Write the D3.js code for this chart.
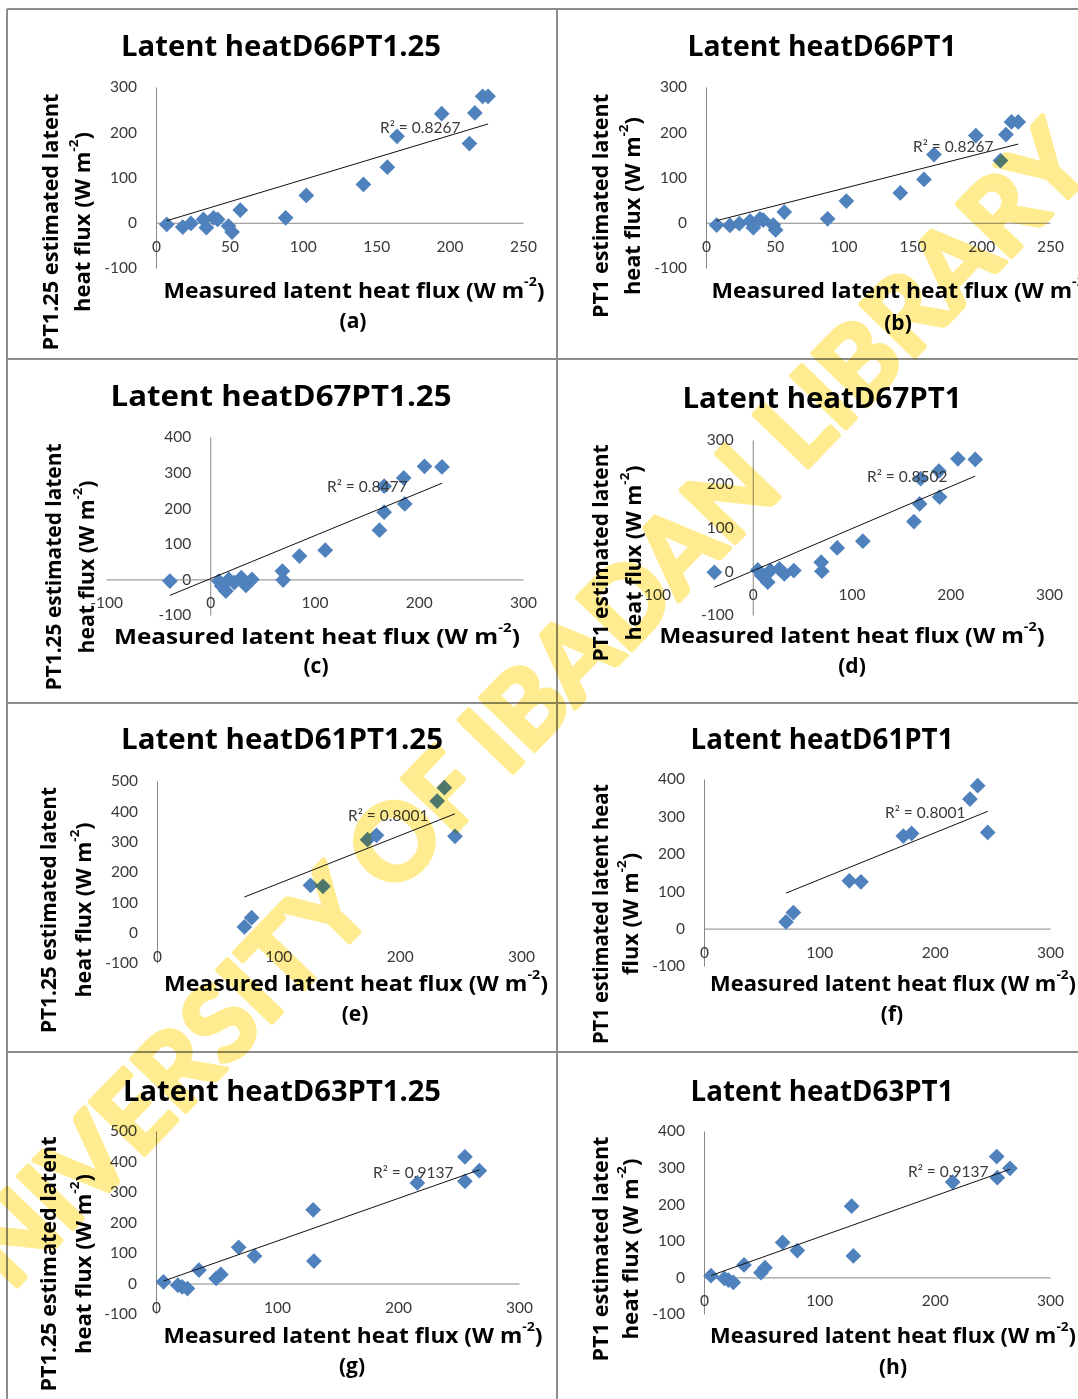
<!DOCTYPE html>
<html>
<head>
<meta charset="utf-8">
<script src="https://cdn.jsdelivr.net/npm/d3@7/dist/d3.min.js"></script>
<style>
  body { margin: 0; background: #fff; }
  svg { display: block; }
  text { font-family: Lato, "Open Sans", sans-serif; }
  .bold { font-family: "Open Sans", "Noto Sans", sans-serif; font-weight: 700; fill: #000; }
</style>
</head>
<body>
<svg width="1078" height="1399"></svg>
<script>
'use strict';

// ---- data ----
let panelTags = ['(a)', '(b)', '(c)', '(d)', '(e)', '(f)', '(g)', '(h)'];
let titles = ['Latent heatD66PT1.25', 'Latent heatD66PT1', 'Latent heatD67PT1.25', 'Latent heatD67PT1',
  'Latent heatD61PT1.25', 'Latent heatD61PT1', 'Latent heatD63PT1.25', 'Latent heatD63PT1'];
let yTitleLine1 = ['PT1.25 estimated latent', 'PT1 estimated latent', 'PT1.25 estimated latent', 'PT1 estimated latent',
  'PT1.25 estimated latent', 'PT1 estimated latent heat', 'PT1.25 estimated latent', 'PT1 estimated latent'];
let yTitleLine2 = ['heat flux  (W m-2)', 'heat flux (W m-2)', 'heat flux (W m-2)', 'heat flux (W m-2)',
  'heat flux (W m-2)', 'flux (W m-2)', 'heat flux  (W m-2)', 'heat flux (W m-2)'];
let xTitle = 'Measured latent heat flux (W m-2)';

let xDomains = [[0, 250], [0, 250], [-100, 300], [-100, 300], [0, 300], [0, 300], [0, 300], [0, 300]];
let yDomains = [[-100, 300], [-100, 300], [-100, 400], [-100, 300], [-100, 500], [-100, 400], [-100, 500], [-100, 400]];
let xTickValues = [
  [0, 50, 100, 150, 200, 250], [0, 50, 100, 150, 200, 250],
  [-100, 0, 100, 200, 300], [-100, 0, 100, 200, 300],
  [0, 100, 200, 300], [0, 100, 200, 300], [0, 100, 200, 300], [0, 100, 200, 300]
];
let yTickValues = [
  [-100, 0, 100, 200, 300], [-100, 0, 100, 200, 300],
  [-100, 0, 100, 200, 300, 400], [-100, 0, 100, 200, 300],
  [-100, 0, 100, 200, 300, 400, 500], [-100, 0, 100, 200, 300, 400],
  [-100, 0, 100, 200, 300, 400, 500], [-100, 0, 100, 200, 300, 400]
];

let d66pt125Measured = [7.3, 18.2, 23.8, 32.3, 34.3, 39.2, 42, 49.4, 51.8, 57.4, 88.3, 102.4, 141.3, 157.6, 164.2, 194.6, 213.5, 217.2, 222.5, 226.2];
let d66pt125Estimated = [-3.7, -9.6, -1.5, 7.4, -11, 11, 7.4, -7.4, -20.6, 28, 11, 60.3, 84.6, 122.8, 191, 241, 175, 242.6, 279.4, 279.4];
let d66pt1Measured = [7.7, 17.4, 24.2, 32, 34.4, 39.2, 41.6, 48.9, 50.6, 56.9, 88.4, 102, 141.2, 158.4, 165.7, 196.1, 214, 218, 222, 226.9];
let d66pt1Estimated = [-5, -6, -2, 3.7, -11, 8.8, 6, -5, -16, 23.5, 8.8, 47.8, 66, 95.6, 150.7, 192.6, 137.5, 194.8, 222.8, 222.8];
let d67pt125Measured = [-38.7, 8.2, 11, 15, 17.8, 23, 29.8, 34.2, 40, 69.2, 69.9, 85.6, 110.3, 162.3, 166.8, 166.8, 185.6, 186.6, 205.5, 222.3];
let d67pt125Estimated = [-4.7, -4.7, -18.7, -32.7, 0, -9, 4.7, -16.8, 0, 23.4, -1.9, 65.4, 82.2, 138.3, 188.8, 261.7, 285, 212, 317.8, 316];
let d67pt1Measured = [-38.9, 5.1, 9.1, 15.2, 17.9, 27, 32, 41.6, 69.3, 70, 85.5, 111.5, 163.2, 169, 170, 188.5, 189.2, 207.8, 225.3];
let d67pt1Estimated = [-2.3, 3, -10, -25, 1.5, 5.3, -6, 1.5, 20.6, 0, 53.4, 68.7, 113.7, 154, 211.5, 229, 169.5, 257, 255.7];
let d61pt125Measured = [72, 78, 126.5, 136.8, 173.5, 180.9, 230.9, 236.8, 245.6];
let d61pt125Estimated = [18.7, 49.5, 156, 152.7, 306.6, 321, 434, 478, 317.6];
let d61pt1Measured = [71.1, 77.5, 126, 136.1, 172.8, 180, 230.6, 237.3, 246];
let d61pt1Estimated = [17.9, 42.9, 127.7, 125, 247.3, 254.5, 346.4, 382, 257];
let d63pt125Measured = [6.2, 18, 21.6, 26, 35.5, 49.7, 53.6, 68.3, 81.4, 129.9, 130.5, 216, 255.3, 255.3, 267.2];
let d63pt125Estimated = [5.5, -5.5, -11, -16.5, 44, 16.5, 29.7, 118.7, 90, 241.8, 73.6, 329.7, 415.4, 335, 370];
let d63pt1Measured = [6.1, 17.6, 21.1, 25.4, 34.7, 49.4, 52.9, 68.2, 80.9, 128, 129.5, 215.6, 253.8, 254.3, 265.3];
let d63pt1Estimated = [4.6, -2.8, -7.3, -13.8, 34, 12.8, 26.6, 95.4, 73.4, 194.5, 58.7, 260.6, 330, 272.5, 298];

let measured = [d66pt125Measured, d66pt1Measured, d67pt125Measured, d67pt1Measured,
  d61pt125Measured, d61pt1Measured, d63pt125Measured, d63pt1Measured];
let estimated = [d66pt125Estimated, d66pt1Estimated, d67pt125Estimated, d67pt1Estimated,
  d61pt125Estimated, d61pt1Estimated, d63pt125Estimated, d63pt1Estimated];

// linear trendlines as drawn in the picture
let trendSlope = [0.977, 0.772, 1.207, 0.962, 1.58, 1.25, 1.397, 1.12];
let trendIntercept = [-2.7, -1.3, 1.8, 0.8, 3.8, 6, -0.7, -1.7];
let rSquared = ['0.8267', '0.8267', '0.8477', '0.8502', '0.8001', '0.8001', '0.9137', '0.9137'];

// ---- page layout (pixels); w = text widths ----
let layout = [
  {left: 156, right: 523, top: 87, bottom: 268, title: [281, 45, 320], r2: [380, 127], xt: [354, 290, 381], tag: [353, 320], yt: [50, 82, 222, 257, 180], xLine: true},
  {left: 706, right: 1050, top: 87, bottom: 268, title: [822, 45, 269], r2: [913, 146], xt: [902, 290, 381], tag: [898, 322], yt: [600, 632, 206, 224, 178], xLine: true},
  {left: 106, right: 523, top: 437, bottom: 615, title: [281, 395, 341], r2: [327, 486], xt: [317, 636, 406], tag: [316, 665], yt: [53, 86, 567, 247, 173], xLine: true},
  {left: 654, right: 1049, top: 440, bottom: 615, title: [822, 397, 279], r2: [867, 476], xt: [852, 635, 385], tag: [852, 665], yt: [600, 633, 553, 217, 175], xLine: false},
  {left: 157, right: 521, top: 781, bottom: 963, title: [282, 738, 322], r2: [348, 815], xt: [356, 983, 384], tag: [355, 1013], yt: [48, 83, 910, 246, 175], xLine: false},
  {left: 704, right: 1050, top: 779, bottom: 966, title: [822, 738, 263], r2: [885, 812], xt: [893, 983, 366], tag: [892, 1013], yt: [600, 630, 914, 260, 122], xLine: true},
  {left: 156, right: 519, top: 1131, bottom: 1314, title: [282, 1090, 318], r2: [373, 1172], xt: [353, 1335, 379], tag: [352, 1365], yt: [48, 83, 1264, 255, 180], xLine: true},
  {left: 704, right: 1050, top: 1131, bottom: 1314, title: [822, 1090, 263], r2: [908, 1171], xt: [893, 1335, 366], tag: [893, 1366], yt: [600, 630, 1249, 225, 181], xLine: true}
];

let svg = d3.select('svg');
let blue = '#4f81bd';
let axisGrey = '#868686';

// table frame
let frame = svg.append('g').attr('stroke', '#8c8c8c').attr('stroke-width', 2);
[9, 359, 703, 1052].forEach(yy => {
  frame.append('line').attr('x1', 7).attr('x2', 1078).attr('y1', yy).attr('y2', yy);
});
[7, 557].forEach(xx => {
  frame.append('line').attr('x1', xx).attr('x2', xx).attr('y1', 9).attr('y2', 1399);
});

// text with a "-2" superscript
let superText = function (sel, str) {
  let parts = str.split('-2');
  sel.append('tspan').text(parts[0]);
  sel.append('tspan').attr('baseline-shift', 'super').attr('font-size', '62%').text('-2');
  sel.append('tspan').text(parts[1]);
};

let boldText = function (parent, size, width) {
  return parent.append('text')
      .attr('class', 'bold')
      .attr('text-anchor', 'middle')
      .attr('dominant-baseline', 'central')
      .attr('font-size', size)
      .attr('textLength', width)
      .attr('lengthAdjust', 'spacingAndGlyphs');
};

let diamond = d3.symbol().type(d3.symbolSquare).size(124);

layout.forEach((L, i) => {
  let x = d3.scaleLinear().domain(xDomains[i]).range([L.left, L.right]);
  let y = d3.scaleLinear().domain(yDomains[i]).range([L.bottom, L.top]);
  let g = svg.append('g');

  // vertical axis through x = 0
  let ya = g.append('g')
      .attr('transform', `translate(${x(0)},0)`)
      .call(d3.axisLeft(y).tickValues(yTickValues[i]).tickFormat(d => String(d))
        .tickSize(0).tickSizeOuter(0).tickPadding(19));
  ya.select('.domain').attr('stroke', axisGrey);

  // horizontal axis through y = 0
  let xa = g.append('g')
      .attr('transform', `translate(0,${y(0)})`)
      .call(d3.axisBottom(x).tickValues(xTickValues[i]).tickFormat(d => String(d))
        .tickSize(0).tickSizeOuter(0).tickPadding(18));
  xa.select('.domain').attr('stroke', L.xLine ? axisGrey : 'none');

  g.selectAll('.tick text')
      .attr('font-family', 'Lato, sans-serif')
      .attr('font-size', 15.5)
      .attr('fill', '#3a3a3a');

  // points
  let pts = d3.zip(measured[i], estimated[i]);
  g.selectAll('path.pt').data(pts).enter().append('path')
      .attr('class', 'pt')
      .attr('d', diamond)
      .attr('fill', blue)
      .attr('transform', d => `translate(${x(d[0])},${y(d[1])}) rotate(45)`);

  // trendline over the range of the measured values
  let ext = d3.extent(measured[i]);
  g.append('line')
      .attr('x1', x(ext[0])).attr('y1', y(trendSlope[i] * ext[0] + trendIntercept[i]))
      .attr('x2', x(ext[1])).attr('y2', y(trendSlope[i] * ext[1] + trendIntercept[i]))
      .attr('stroke', '#111').attr('stroke-width', 1);

  g.append('text')
      .attr('x', L.r2[0]).attr('y', L.r2[1])
      .attr('dominant-baseline', 'central')
      .attr('font-size', 15.5).attr('fill', '#3a3a3a')
      .text('R² = ' + rSquared[i]);

  // titles
  boldText(g, 28, L.title[2])
      .attr('x', L.title[0]).attr('y', L.title[1])
      .text(titles[i]);

  boldText(g, 21, L.xt[2])
      .attr('x', L.xt[0]).attr('y', L.xt[1])
      .call(superText, xTitle);

  g.append('text')
      .attr('class', 'bold')
      .attr('x', L.tag[0]).attr('y', L.tag[1])
      .attr('text-anchor', 'middle').attr('dominant-baseline', 'central')
      .attr('font-size', 21)
      .text(panelTags[i]);

  boldText(g, 21, L.yt[3])
      .attr('transform', `translate(${L.yt[0]},${L.yt[2]}) rotate(-90)`)
      .text(yTitleLine1[i]);

  boldText(g, 21, L.yt[4])
      .attr('transform', `translate(${L.yt[1]},${L.yt[2]}) rotate(-90)`)
      .call(superText, yTitleLine2[i]);
});

// library watermark across the page
svg.append('text')
    .attr('transform', 'translate(500,732) rotate(-46)')
    .attr('text-anchor', 'middle')
    .attr('dy', '0.36em')
    .attr('font-family', '"Liberation Sans", Arial, sans-serif')
    .attr('font-weight', 'bold')
    .attr('font-size', 104)
    .attr('fill', 'rgb(255,236,145)')
    .attr('stroke', 'rgb(255,236,145)')
    .attr('stroke-width', 5)
    .attr('stroke-linejoin', 'round')
    .style('mix-blend-mode', 'multiply')
    .text('UNIVERSITY OF IBADAN LIBRARY');
</script>
</body>
</html>
